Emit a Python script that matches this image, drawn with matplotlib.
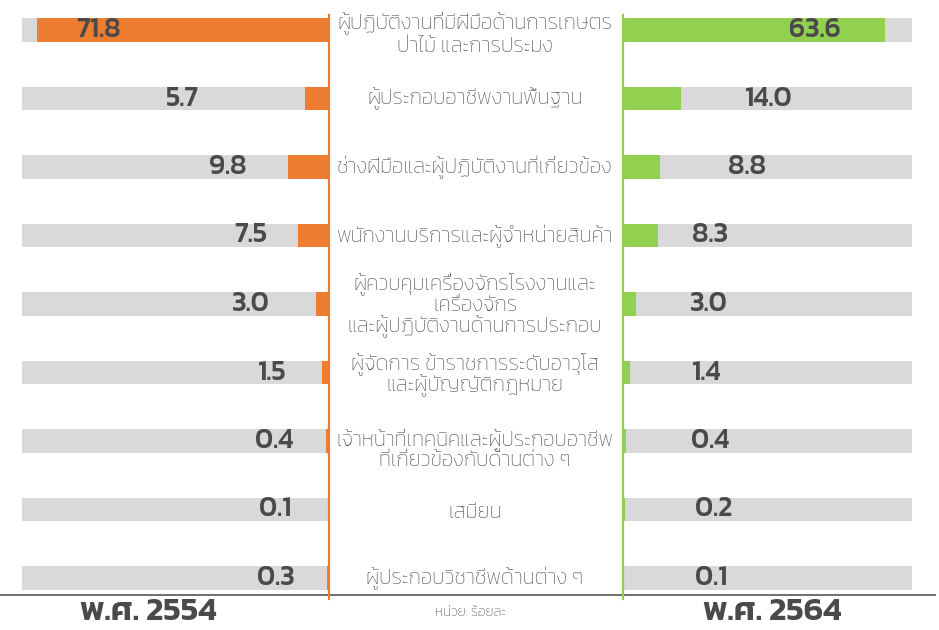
import matplotlib
matplotlib.use("Agg")
import matplotlib.pyplot as plt
from matplotlib.lines import Line2D

# Occupation groups (share of employed persons, %)
categories = [
    "ผู้ปฏิบัติงานที่มีฝีมือด้านการเกษตร\nป่าไม้ และการประมง",
    "ผู้ประกอบอาชีพงานพื้นฐาน",
    "ช่างฝีมือและผู้ปฏิบัติงานที่เกี่ยวข้อง",
    "พนักงานบริการและผู้จำหน่ายสินค้า",
    "ผู้ควบคุมเครื่องจักรโรงงานและ\nเครื่องจักร\nและผู้ปฏิบัติงานด้านการประกอบ",
    "ผู้จัดการ ข้าราชการระดับอาวุโส\nและผู้บัญญัติกฎหมาย",
    "เจ้าหน้าที่เทคนิคและผู้ประกอบอาชีพ\nที่เกี่ยวข้องกับด้านต่าง ๆ",
    "เสมียน",
    "ผู้ประกอบวิชาชีพด้านต่าง ๆ",
]
values_2554 = [71.8, 5.7, 9.8, 7.5, 3.0, 1.5, 0.4, 0.1, 0.3]
values_2564 = [63.6, 14.0, 8.8, 8.3, 3.0, 1.4, 0.4, 0.2, 0.1]
year_labels = ["พ.ศ. 2554", "พ.ศ. 2564"]
unit_label = "หน่วย: ร้อยละ"

# Layout / styling
W, H = 939, 630
ORANGE = "#ED7D31"
GREEN = "#92D050"
TRACK = "#D9D9D9"
NUM_COLOR = "#4A4A4A"
TXT_COLOR = "#4A4A4A"
FONT = ["Kanit", "DejaVu Sans"]
track_max_left = 75.5
track_max_right = 70.2
num_x_left = [56.6, 35.8, 24.7, 19.0, 19.0, 13.8, 13.3, 13.1, 12.8]
num_x_right = [46.6, 35.4, 30.0, 20.9, 20.7, 20.2, 20.9, 21.9, 21.2]
label_dy = [0.06, 0.0, 0.0, 0.02, 0.02, 0.03, 0.12, 0.05, 0.0]
label_ls = [1.2, 1.0, 1.0, 1.0, 1.06, 1.0, 0.98, 1.0, 1.0]

row_first, row_step = 30.0, 68.5  # pixel centre of first row and spacing
n = len(categories)
rows = list(range(n))
y_top = -row_first / row_step
y_bot = (H - row_first) / row_step

fig = plt.figure(figsize=(W / 100, H / 100), dpi=100)


def px_axes(x0, x1):
    return fig.add_axes([x0 / W, 0, (x1 - x0) / W, 1])


# Left panel: 2554, bars grow leftwards
axl = px_axes(22, 328)
axl.barh(rows, [track_max_left] * n, height=0.35, color=TRACK, zorder=1)
axl.barh(rows, values_2554, height=0.35, color=ORANGE, zorder=2)
axl.set_xlim(track_max_left, 0)
for r, v, xl in zip(rows, values_2554, num_x_left):
    axl.text(xl, r, f"{v:.1f}", ha="center", va="center", fontsize=20,
             fontweight="medium", color=NUM_COLOR, family=FONT, zorder=3)

# Right panel: 2564, bars grow rightwards
axr = px_axes(624, 912)
axr.barh(rows, [track_max_right] * n, height=0.35, color=TRACK, zorder=1)
axr.barh(rows, values_2564, height=0.35, color=GREEN, zorder=2)
axr.set_xlim(0, track_max_right)
for r, v, xl in zip(rows, values_2564, num_x_right):
    axr.text(xl, r, f"{v:.1f}", ha="center", va="center", fontsize=20,
             fontweight="medium", color=NUM_COLOR, family=FONT, zorder=3)

# Centre column with category names
axc = px_axes(328, 622)
axc.set_xlim(0, 1)
for r, lab, dy, ls in zip(rows, categories, label_dy, label_ls):
    axc.text(0.5, r + dy, lab, ha="center", va="center", fontsize=15,
             fontweight="light", color=TXT_COLOR, family=FONT,
             linespacing=ls)

for ax in (axl, axr, axc):
    ax.set_ylim(y_bot, y_top)
    ax.axis("off")
    ax.patch.set_alpha(0)


def fig_line(xs, ys, **kw):
    fig.add_artist(Line2D([x / W for x in xs], [1 - y / H for y in ys],
                          transform=fig.transFigure, **kw))


fig_line([0, 935], [595, 595], color="#6F6F6F", lw=1.4)
fig_line([328.5, 328.5], [15, 599], color=ORANGE, lw=1.6)
fig_line([622.5, 622.5], [15, 599], color=GREEN, lw=1.6)

fig.text(148 / W, 1 - 613 / H, year_labels[0], ha="center", va="center",
         fontsize=24, fontweight="semibold", color=NUM_COLOR, family=FONT)
fig.text(772 / W, 1 - 613 / H, year_labels[1], ha="center", va="center",
         fontsize=24, fontweight="semibold", color=NUM_COLOR, family=FONT)
fig.text(470 / W, 1 - 612 / H, unit_label, ha="center", va="center",
         fontsize=10, fontweight="light", color="#333333", family=FONT)

fig.savefig("out.png", dpi=100)
